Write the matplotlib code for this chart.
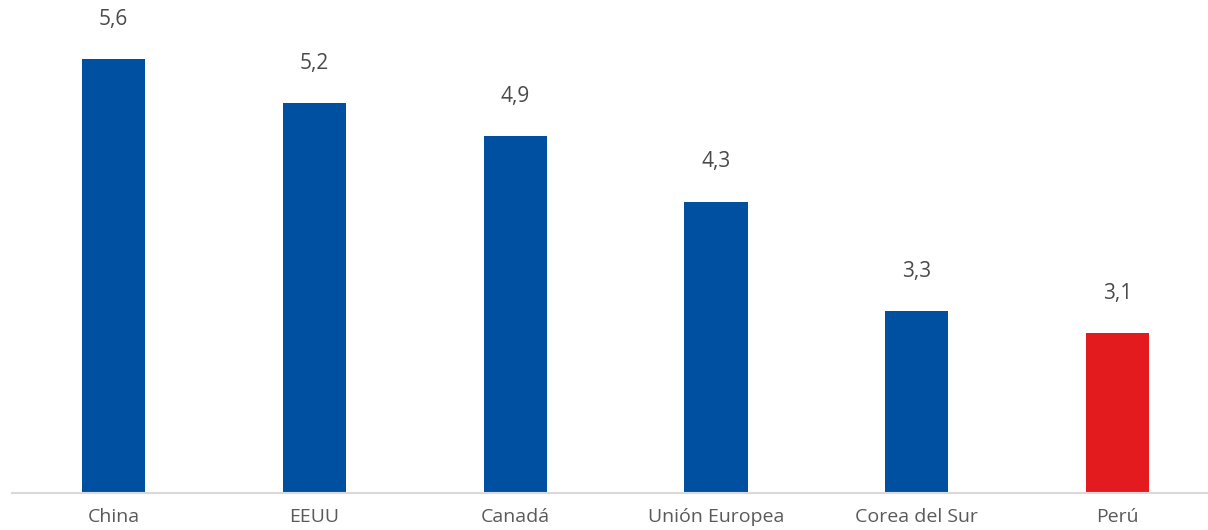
import matplotlib.pyplot as plt

plt.rcParams['font.family'] = ['Open Sans', 'DejaVu Sans']

categories = ['China', 'EEUU', 'Canadá', 'Unión Europea', 'Corea del Sur', 'Perú']
values = [5.6, 5.2, 4.9, 4.3, 3.3, 3.1]
labels = ['5,6', '5,2', '4,9', '4,3', '3,3', '3,1']
colors = ['#0050A2'] * 5 + ['#E31B1F']

fig = plt.figure(figsize=(12.08, 5.30), dpi=100)
ax = fig.add_axes([0.01, 0.0698, 0.99, 0.9302])

x = range(len(categories))
ax.bar(x, values, width=0.315, color=colors, bottom=0)

# value labels above each bar
for i, v in enumerate(values):
    ax.annotate(labels[i], (i, v), xytext=(0, 21), textcoords='offset points',
                ha='center', va='bottom', fontsize=15, color='#4a4a4a')

ax.set_xlim(-0.505, 5.45)
ax.set_ylim(1.64, 6.14)
ax.set_xticks(list(x))
ax.set_xticklabels(categories, fontsize=14, color='#5a5a5a')
ax.tick_params(axis='x', length=0, pad=10.5)
ax.set_yticks([])
for s in ['top', 'right', 'left']:
    ax.spines[s].set_visible(False)
ax.spines['bottom'].set_color('#d9d9d9')
ax.spines['bottom'].set_linewidth(1.5)

fig.savefig('out.png', dpi=100)
